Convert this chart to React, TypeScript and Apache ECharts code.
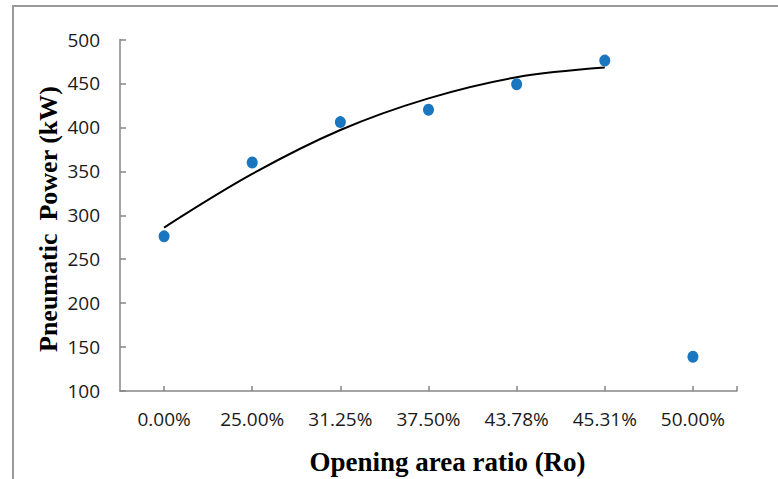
import React, { useEffect, useRef } from "react";
import * as echarts from "echarts";

// Opening area ratio categories (x axis)
const categories: string[] = ["0.00%", "25.00%", "31.25%", "37.50%", "43.78%", "45.31%", "50.00%"];
// Measured pneumatic power (kW) for each opening ratio
const powerValues: number[] = [276, 360, 406, 420, 449, 476, 139];
// Second-order trend curve over the first six ratios (kW)
const trendValues: number[] = [286, 347, 397, 433, 457, 468];
// Y axis range
const yMin = 100;
const yMax = 500;
const yStep = 50;

const labelFont = "'Open Sans', 'Liberation Sans', sans-serif";
const titleFont = "'Liberation Serif', 'Times New Roman', serif";

export default function App() {
  const ref = useRef<HTMLDivElement>(null);

  useEffect(() => {
    if (!ref.current) return;
    const chart = echarts.init(ref.current, null, { renderer: "svg" });

    const positions = categories.map((_, i) => i + 1);
    const scatterData = powerValues.map((v, i) => [i + 1, v]);
    const trendData = trendValues.map((v, i) => [i + 1, v]);
    const axisColor = "#868686";

    chart.setOption({
      animation: false,
      backgroundColor: "#ffffff",
      grid: { left: 120, right: 41, top: 39.5, bottom: 88, containLabel: false },
      xAxis: {
        type: "value",
        min: 0.5,
        max: categories.length + 0.5,
        axisLine: { show: true, lineStyle: { color: axisColor, width: 1.5 } },
        axisTick: {
          show: true,
          inside: true,
          length: 5,
          lineStyle: { color: axisColor, width: 1.5 },
          customValues: [...positions, categories.length + 0.5],
        },
        axisLabel: {
          customValues: positions,
          formatter: (v: number) => categories[Math.round(v) - 1] ?? "",
          fontFamily: labelFont,
          fontSize: 19,
          color: "#1a1a1a",
          margin: 18,
        },
        splitLine: { show: false },
      },
      yAxis: {
        type: "value",
        min: yMin,
        max: yMax,
        interval: yStep,
        axisLine: { show: true, lineStyle: { color: axisColor, width: 1.5 } },
        axisTick: { show: true, inside: true, length: 6, lineStyle: { color: axisColor, width: 1.5 } },
        axisLabel: {
          fontFamily: labelFont,
          fontSize: 19,
          color: "#1a1a1a",
          margin: 20,
        },
        splitLine: { show: false },
      },
      series: [
        {
          name: "Trend",
          type: "line",
          data: trendData,
          smooth: 0.35,
          symbol: "none",
          lineStyle: { color: "#000000", width: 2 },
          z: 2,
        },
        {
          name: "Pneumatic Power",
          type: "scatter",
          data: scatterData,
          symbol: "circle",
          symbolSize: [11, 12],
          itemStyle: { color: "#1976bf", opacity: 1 },
          z: 3,
        },
      ],
      graphic: [
        {
          type: "rect",
          shape: { x: 13, y: 6, width: 900, height: 600 },
          style: { fill: "none", stroke: "#9a9a9a", lineWidth: 2 },
          silent: true,
        },
        {
          type: "text",
          x: 447.5,
          y: 462,
          style: {
            text: "Opening area ratio (Ro)",
            fontFamily: titleFont,
            fontWeight: "bold",
            fontSize: 27,
            fill: "#000000",
            align: "center",
            verticalAlign: "middle",
          },
        },
        {
          type: "text",
          x: 48,
          y: 219,
          rotation: Math.PI / 2,
          style: {
            text: "Pneumatic  Power (kW)",
            fontFamily: titleFont,
            fontWeight: "bold",
            fontSize: 26,
            fill: "#000000",
            align: "center",
            verticalAlign: "middle",
          },
        },
      ],
    });

    return () => {
      chart.dispose();
    };
  }, []);

  return (
    <div
      ref={ref}
      style={{ position: "absolute", left: 0, top: 0, width: 778, height: 479, background: "#ffffff" }}
    />
  );
}
